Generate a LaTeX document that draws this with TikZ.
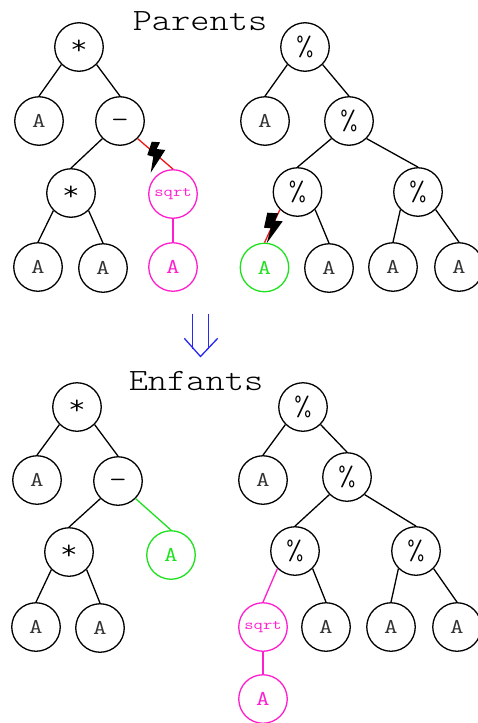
\documentclass[tikz,border=0pt]{standalone}
\usepackage{fontspec}
\newfontfamily\courish[FakeStretch=1.18]{Latin Modern Mono Light}
\newfontfamily\courop[FakeStretch=1.25]{Latin Modern Mono}
\newfontfamily\courlt[FakeStretch=1.2]{Latin Modern Mono Light}
\usetikzlibrary{calc}
\definecolor{mag}{RGB}{255,30,205}
\definecolor{grn}{RGB}{30,225,30}
\definecolor{blu}{RGB}{40,40,240}
\definecolor{redl}{RGB}{240,20,20}
\tikzset{
  x=1pt,y=-1pt,
  tn/.style={circle,draw,line width=1.3pt,minimum size=48.5pt,inner sep=0pt,font=\fontsize{21}{21}\courop,text=black!80},
  opn/.style={tn,font=\fontsize{28}{28}\courlt,text=black},
  mg/.style={draw=mag,text=mag},
  gr/.style={draw=grn,text=grn},
  sq/.style={font=\fontsize{14.5}{14.5}\courop},
  ttl/.style={font=\fontsize{31}{31}\courish,inner sep=0pt},
  lk/.style={line width=1.3pt},
  bolt/.style={fill=black,draw=none},
  dbl/.style={blu,line width=1.3pt}
}
\newcommand{\lnk}[3][black]{\draw[lk,#1] (#2.south west) -- (#3.north);}
\newcommand{\lnr}[3][black]{\draw[lk,#1] (#2.south east) -- (#3.north);}
\newcommand{\opstar}{*}
\newcommand{\opminus}{\smash{\raisebox{-7pt}{-}}}
\begin{document}
\begin{tikzpicture}
\clip (0,0) rectangle (478,723);
\useasboundingbox (0,0) rectangle (478,723);
\node[ttl] (t1) at (200,21) {Parents};
\node[ttl] (t2) at (196,381) {Enfants};
% top left
\node[opn] (a0) at (79,47) {\opstar};
\node[tn] (a1) at (39,121) {A};
\node[opn] (a2) at (120,121) {\opminus};
\node[opn] (a3) at (71,193) {\opstar};
\node[tn,mg,sq] (a4) at (173,194) {sqrt};
\node[tn] (a5) at (38,267) {A};
\node[tn] (a6) at (103,268) {A};
\node[tn,mg] (a7) at (173,267) {A};
\lnk{a0}{a1}\lnr{a0}{a2}\lnk{a2}{a3}\lnr[redl]{a2}{a4}\lnk{a3}{a5}\lnr{a3}{a6}
\draw[lk,mag] (a4) -- (a7);
% top right
\node[opn] (b0) at (305,47) {\%};
\node[tn] (b1) at (265,121) {A};
\node[opn] (b2) at (349,121) {\%};
\node[opn] (b3) at (297.5,192) {\%};
\node[opn] (b4) at (418,192) {\%};
\node[tn,gr] (b5) at (264.5,267.5) {A};
\node[tn] (b6) at (329,268) {A};
\node[tn] (b7) at (393,267) {A};
\node[tn] (b8) at (459,267) {A};
\lnk{b0}{b1}\lnr{b0}{b2}\lnk{b2}{b3}\lnr{b2}{b4}\lnk[redl]{b3}{b5}\lnr{b3}{b6}\lnk{b4}{b7}\lnr{b4}{b8}
% bolts
\fill[bolt] (151.7,141.7) -- (160,142.3) -- (156.7,149) -- (165.3,150) -- (150.7,172.7) -- (153.3,156.7) -- (147.3,155) -- cycle;
\fill[bolt] (267.3,212.7) -- (278.3,213.3) -- (275,220.7) -- (282.7,221.3) -- (266.7,243.3) -- (270.7,228.3) -- (264,227.7) -- cycle;
% arrow
\coordinate (s1) at (192.3,314);
\coordinate (e1) at (192.3,349);
\coordinate (s2) at (208.7,314);
\coordinate (e2) at (208.7,349);
\coordinate (hl) at (184.3,338.3);
\coordinate (ht) at (200.5,356.5);
\coordinate (hr) at (217.7,338.3);
\draw[dbl] (s1) -- (e1);
\draw[dbl] (s2) -- (e2);
\draw[dbl] (hl) -- (ht) -- (hr);
% bottom left
\node[opn] (c0) at (77,407) {\opstar};
\node[tn] (c1) at (37,480) {A};
\node[opn] (c2) at (118,481) {\opminus};
\node[opn] (c3) at (69,552) {\opstar};
\node[tn,gr] (c4) at (171,555) {A};
\node[tn] (c5) at (36,627) {A};
\node[tn] (c6) at (100,628) {A};
\lnk{c0}{c1}\lnr{c0}{c2}\lnk{c2}{c3}\lnr[grn]{c2}{c4}\lnk{c3}{c5}\lnr{c3}{c6}
% bottom right
\node[opn] (d0) at (303,407) {\%};
\node[tn] (d1) at (263,480) {A};
\node[opn] (d2) at (347,477) {\%};
\node[opn] (d3) at (295,551) {\%};
\node[opn] (d4) at (416,551) {\%};
\node[tn,mg,sq] (d5) at (263,627) {sqrt};
\node[tn] (d6) at (326,627) {A};
\node[tn] (d7) at (391,627) {A};
\node[tn] (d8) at (457,627) {A};
\node[tn,mg] (d9) at (263,699) {A};
\lnk{d0}{d1}\lnr{d0}{d2}\lnk{d2}{d3}\lnr{d2}{d4}\lnk[mag]{d3}{d5}\lnr{d3}{d6}\lnk{d4}{d7}\lnr{d4}{d8}
\draw[lk,mag] (d5) -- (d9);
\end{tikzpicture}
\end{document}
